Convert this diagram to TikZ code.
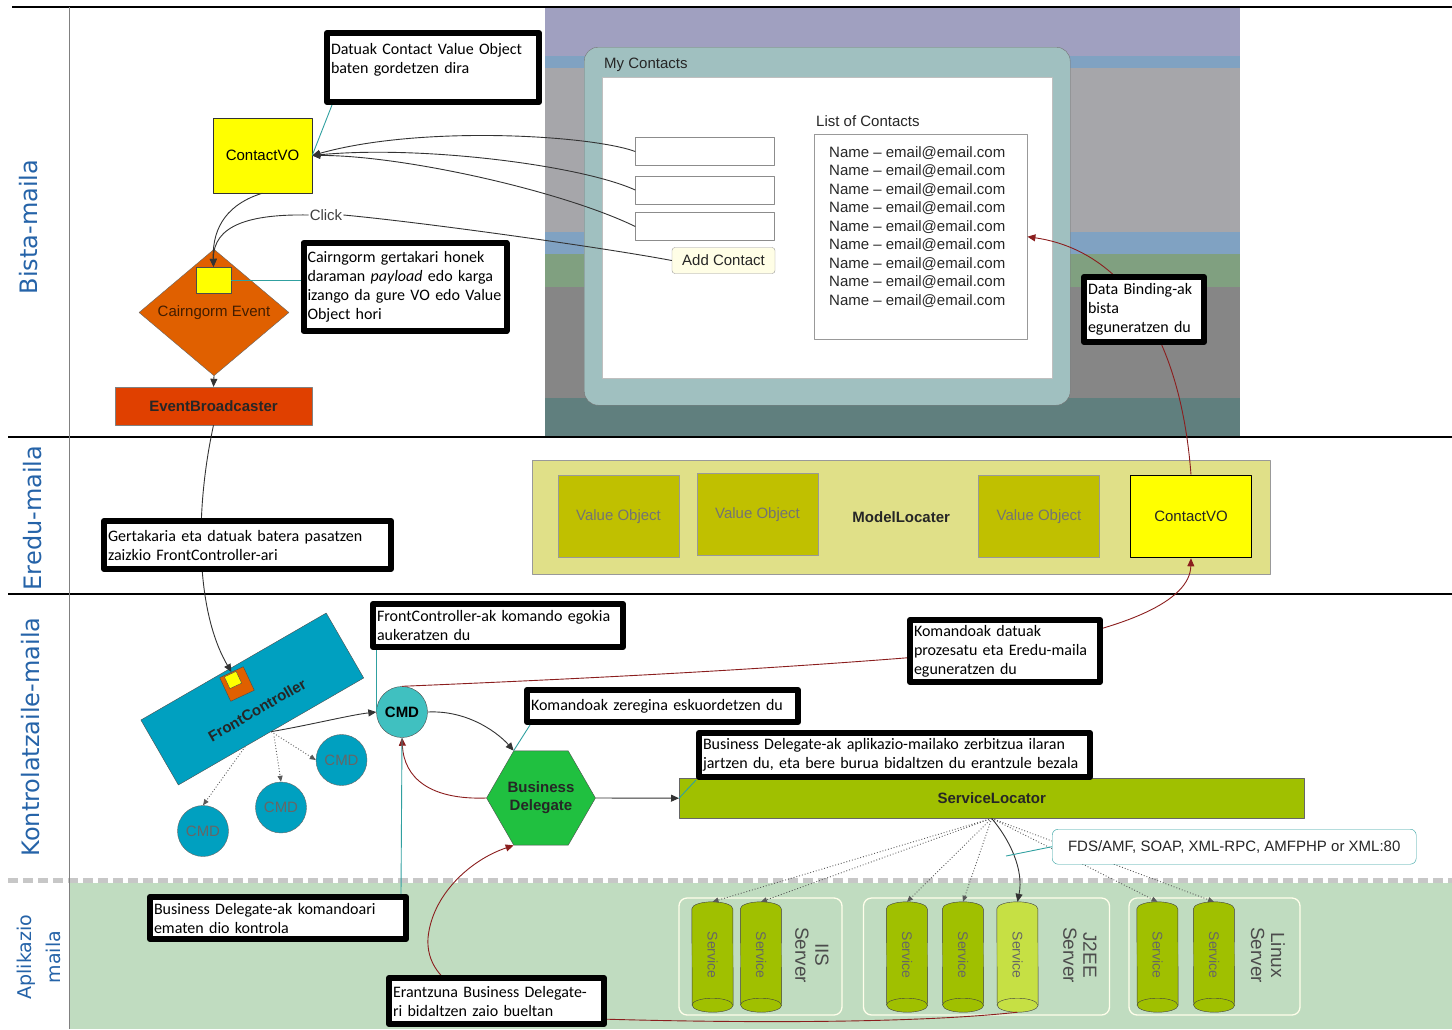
\documentclass[tikz,border=0pt]{standalone}
\usepackage{fontspec}
\setmainfont{Liberation Sans}
\newfontfamily\calfont{Carlito}
\newfontfamily\lblfont{DejaVu Sans}
\usetikzlibrary{arrows.meta,shapes.geometric,calc}

\definecolor{scrpurple}{HTML}{A0A0C0}
\definecolor{scrblue}{HTML}{80A2C2}
\definecolor{scrgray}{HTML}{A6A6AA}
\definecolor{scrgreen}{HTML}{80A080}
\definecolor{scrdark}{HTML}{868686}
\definecolor{scrteal}{HTML}{607F7E}
\definecolor{winfill}{HTML}{A0C0C0}
\definecolor{voyellow}{HTML}{FFFF00}
\definecolor{evorange}{HTML}{E06000}
\definecolor{ebred}{HTML}{E04000}
\definecolor{fcteal}{HTML}{00A0C0}
\definecolor{cmdlight}{HTML}{40C0C0}
\definecolor{bdgreen}{HTML}{20C040}
\definecolor{slgreen}{HTML}{A0C000}
\definecolor{srvlight}{HTML}{C6E044}
\definecolor{modelfill}{HTML}{E0E088}
\definecolor{voolive}{HTML}{C0C000}
\definecolor{appgreen}{HTML}{C0DCC0}
\definecolor{noteteal}{HTML}{30A0A0}
\definecolor{linkred}{HTML}{8B1E1E}
\definecolor{lanelbl}{HTML}{2563A8}

\begin{document}
\begin{tikzpicture}[x=1pt,y=-1pt,>={Triangle[length=8pt,width=7pt]},line join=round,
    font=\fontsize{15}{18}\selectfont,
    lane/.style={draw=black,line width=1.8pt},
    lanelabel/.style={rotate=90,text=lanelbl,font=\lblfont\fontsize{24}{28}\selectfont},
    field/.style={draw=black!45,fill=white,minimum width=139,minimum height=28},
    conn/.style={draw=black!80,line width=.9pt},
    redconn/.style={draw=linkred,line width=.9pt},
    dots/.style={draw=black!65,line width=.9pt,dotted,-{Triangle[length=6pt,width=5pt]}},
    note/.style={draw=noteteal,line width=.9pt},
    vobox/.style={draw=black!40,fill=voolive,text=black!55,minimum width=121,minimum height=82},
    cmdsmall/.style={circle,draw=black!60,fill=fcteal,text=black!60,minimum size=51,inner sep=0},
    srv/.style={minimum width=41,minimum height=110,inner sep=0},
    srvcap/.style={x radius=20.5pt,y radius=7pt},
    srvtxt/.style={rotate=-90,text=black!60,font=\fontsize{14}{16}\selectfont},
    srvlabel/.style={rotate=-90,align=center,text=black!70,font=\fontsize{19}{20}\selectfont},
    grp/.style={draw=white!92!yellow,line width=1.3pt,rounded corners=8pt,minimum height=117},
    callout/.style={draw=black,line width=6pt,fill=white,anchor=north west,align=left,
      inner xsep=4pt,inner ysep=2pt,font=\calfont\fontsize{16}{19}\selectfont}]
  \useasboundingbox (0,0) rectangle (1452,1029);

  \fill[scrpurple] (545,8) rectangle (1240,56);
  \fill[scrblue] (545,56) rectangle (1240,68);
  \fill[scrgray] (545,68) rectangle (1240,232);
  \fill[scrblue] (545,232) rectangle (1240,254);
  \fill[scrgreen] (545,254) rectangle (1240,287);
  \fill[scrdark] (545,287) rectangle (1240,398);
  \fill[scrteal] (545,398) rectangle (1240,436);
  \fill[appgreen] (69,883) rectangle (1452,1029);

  \draw[lane] (12,7) -- (1452,7);
  \draw[lane] (8,437) -- (1452,437);
  \draw[lane] (8,594) -- (1452,594);
  \draw[draw=black!22,line width=5pt,dash pattern=on 10pt off 5pt] (8,880) -- (1452,880);
  \draw[draw=black!50,line width=1pt] (69,7) -- (69,1029);

  \node[lanelabel] (lbista) at (29,227) {Bista-maila};
  \node[lanelabel] (leredu) at (33,518) {Eredu-maila};
  \node[lanelabel] (lkontrol) at (31,737) {Kontrolatzaile-maila};
  \node[lanelabel,align=center,font=\lblfont\fontsize{19}{29}\selectfont] (lapli) at (39,957) {Aplikazio\\maila};

  \node[draw=black!55,fill=winfill,rounded corners=14pt,minimum width=486,minimum height=358,anchor=north west] (win) at (584,47) {};
  \node[anchor=west,text=black!85,inner sep=0] (wtitle) at (604,65) {My Contacts};
  \node[draw=black!25,fill=white,minimum width=450,minimum height=301,anchor=north west] (pane) at (602,77) {};
  \node[field] (f1) at (705,151.5) {};
  \node[field] (f2) at (705,190) {};
  \node[field] (f3) at (705,226.5) {};
  \node[draw=black!40,fill=white!90!yellow,rounded corners=3pt,minimum width=103,minimum height=26,inner sep=0,text=black!85] (addc) at (723.5,260.5) {Add Contact};
  \node[anchor=west,text=black!85,inner sep=0] (lhead) at (816,121) {List of Contacts};
  \node[draw=black!40,fill=white,minimum width=213,minimum height=205,anchor=north west] (lst) at (814,134) {};
  \foreach \i in {0,...,8}
    \node[anchor=west,text=black!85,inner sep=0] (nm\i) at (829,{153+18.46*\i}) {Name – email@email.com};

  \node[draw=black!80,fill=voyellow,minimum width=99,minimum height=75] (cvo) at (262.5,155.5) {ContactVO};
  \node[diamond,draw=black!60,fill=evorange,minimum width=150,minimum height=125,inner sep=0,text=black!70!evorange] (cev) at (214,312.5) {Cairngorm Event};
  \node[draw=black!70,fill=voyellow,minimum width=35,minimum height=26,inner sep=0] (pay) at (213.5,280) {};
  \node[draw=black!50,fill=ebred,minimum width=197,minimum height=38,font=\fontsize{15}{18}\selectfont\bfseries,text=black!85] (eb) at (213.5,406) {EventBroadcaster};

  \node[draw=black!40,fill=modelfill,minimum width=738,minimum height=114,anchor=north west,font=\fontsize{15}{18}\selectfont\bfseries,text=black!85] (ml) at (532,460) {ModelLocater};
  \node[vobox] (vo1) at (618.5,516.5) {Value Object};
  \node[vobox] (vo2) at (757.5,514.5) {Value Object};
  \node[vobox] (vo3) at (1039,516.5) {Value Object};
  \node[draw=black,line width=1.6pt,fill=voyellow,minimum width=121,minimum height=82,text=black!85] (mvo) at (1191,516.5) {ContactVO};

  \node[draw=black!70,fill=fcteal,minimum width=214,minimum height=75,rotate=30] (fc) at (252.3,699) {};
  \node[rotate=30,font=\fontsize{15}{18}\selectfont\bfseries,text=black!85] (fclbl) at (257,710) {FrontController};
  \node[draw=black!70,fill=evorange,minimum size=26,inner sep=0,rotate=25] (fcev) at (237,684) {};
  \node[draw=black!70,fill=voyellow,minimum size=13,inner sep=0,rotate=25] (fcpay) at (233,680) {};
  \node[circle,draw=black!70,fill=cmdlight,minimum size=51,inner sep=0,font=\fontsize{15}{18}\selectfont\bfseries] (cmd) at (402,712) {CMD};
  \node[cmdsmall] (cmda) at (341.5,760) {CMD};
  \node[cmdsmall] (cmdb) at (281,807.5) {CMD};
  \node[cmdsmall] (cmdc) at (203,831) {CMD};
  \node[regular polygon,regular polygon sides=6,minimum size=97,inner sep=0,draw=black!70,fill=bdgreen,align=center,
    font=\fontsize{15}{18}\selectfont\bfseries,text=black!85] (bd) at (541,798) {Business\\Delegate};
  \node[draw=black!60,fill=slgreen,minimum width=625,minimum height=40,anchor=north west,
    font=\fontsize{15}{18}\selectfont\bfseries,text=black!85] (sl) at (679,778) {ServiceLocator};

  \node[grp,minimum width=163] (giis) at (760.5,956.5) {};
  \node[grp,minimum width=246] (gj2ee) at (986.5,956.5) {};
  \node[grp,minimum width=171] (glin) at (1214.5,956.5) {};
  \foreach \n/\x/\c in {s1/712.5/slgreen,s2/761/slgreen,s3/907/slgreen,s4/963/slgreen,s5/1017.5/srvlight,s6/1157.5/slgreen,s7/1214/slgreen}{
    \node[srv] (\n) at (\x,957) {};
    \draw[draw=black!75,fill=\c] ($(\n.north west)+(0,7)$) arc[start angle=180,end angle=0,srvcap]
      -- ($(\n.south east)+(0,-7)$) arc[start angle=0,end angle=-180,srvcap] -- cycle;
    \draw[draw=black!75] ($(\n.south west)+(0,-7)$) arc[start angle=180,end angle=0,srvcap];
    \node[srvtxt] (\n txt) at ($(\n.center)+(0,-2)$) {Service};
  }
  \node[srvlabel] (liis) at (812,955) {IIS\\Server};
  \node[srvlabel] (lj2ee) at (1080,955) {J2EE\\Server};
  \node[srvlabel] (llin) at (1268,955) {Linux\\Server};

  \draw[conn,->] (f1.west) .. controls (590,135) and (420,125) .. (cvo.east);
  \draw[conn,->] (f2.west) .. controls (580,165) and (420,145) .. (cvo.east);
  \draw[conn,->] (f3.west) .. controls (560,190) and (400,155) .. (cvo.east);
  \node[text=black!75,inner sep=1pt] (click) at (326,215) {Click};
  \draw[conn] (addc.west) .. controls (600,247) and (420,222) .. (click.east);
  \draw[conn,->] (click.west) .. controls (250,214) and (213,225) .. (pay.north);
  \draw[conn,->] (cvo.south) .. controls (230,203) and (212,225) .. (pay.north);
  \draw[conn,->] (cev.south) -- (eb.north);
  \draw[conn,->] (eb.south) .. controls (195,510) and (195,610) .. (fcev.north);
  \draw[conn,->] (fc.south) .. controls (310,725) and (350,715) .. (cmd.west);
  \draw[dots] (fc.south) -- (cmda.west);
  \draw[dots] ($(fc.south)+(3,5)$) -- (cmdb.north);
  \draw[dots] ($(fc.south)!.28!(fc.south west)$) -- (cmdc.north);
  \draw[conn,->] (cmd.east) .. controls (470,710) and (500,735) .. (bd.120);
  \draw[redconn,->] (bd.west) .. controls (430,800) and (404,778) .. (cmd.south);
  \draw[conn,->] (bd.east) -- (sl.west);
  \draw[redconn,->] (cmd.north) .. controls (600,678) and (800,668) .. (1000,650)
    .. controls (1130,630) and (1190,600) .. (mvo.south);
  \draw[redconn,->] (mvo.north) .. controls (1180,330) and (1120,250) .. (lst.east);
  \foreach \s in {s1,s2,s3,s4,s6,s7}
    \draw[dots] (sl.south) -- (\s.north);
  \draw[conn,->] (sl.south) .. controls (1010,840) and (1024,870) .. (s5.north);
  \draw[redconn,->] (s5.south) .. controls (900,1025) and (700,1022) .. (600,1019)
    .. controls (480,1015) and (425,985) .. (428,938)
    .. controls (432,895) and (470,860) .. (bd.-120);

  \node[draw=noteteal,fill=white,rounded corners=6pt,minimum width=364,minimum height=35,anchor=north west,text=black!85] (leg) at (1052,829) {FDS/AMF, SOAP, XML-RPC, AMFPHP or XML:80};
  \coordinate (legtip) at (1006,856);

  \node[callout,text width=204,minimum height=69] (cdat) at (324,30) {Datuak Contact Value Object\\baten gordetzen dira\\~};
  \node[callout,text width=195,minimum height=88] (cpay) at (300.5,240) {Cairngorm gertakari honek\\daraman {\itshape payload} edo karga\\izango da gure VO edo Value\\Object hori};
  \node[callout,text width=279,minimum height=48] (cger) at (101,518) {Gertakaria eta datuak batera pasatzen\\zaizkio FrontController-ari};
  \node[callout,text width=242,minimum height=43] (cfcs) at (370,601) {FrontController-ak komando egokia\\aukeratzen du};
  \node[callout,text width=182,minimum height=62] (ckom) at (907,617) {Komandoak datuak\\prozesatu eta Eredu-maila\\eguneratzen du};
  \node[callout,text width=263,minimum height=32] (cesk) at (524,687) {Komandoak zeregina eskuordetzen du};
  \node[callout,text width=383,minimum height=44] (cbdq) at (696,730) {Business Delegate-ak aplikazio-mailako zerbitzua ilaran\\jartzen du, eta bere burua bidaltzen du erantzule bezala};
  \node[callout,text width=112,minimum height=65] (cbind) at (1081,274) {Data Binding-ak\\bista\\eguneratzen du};
  \node[callout,text width=248,minimum height=42] (cbdc) at (147,894) {Business Delegate-ak komandoari\\ematen dio kontrola};
  \node[callout,text width=207,minimum height=46] (cera) at (386,975) {Erantzuna Business Delegate-\\ri bidaltzen zaio bueltan};

  \draw[note] ($(cdat.south west)+(8,0)$) -- (cvo.east);
  \draw[note] (pay.east) -- (cpay.west |- pay.east);
  \draw[note] (cmd.west |- cfcs.south) -- (cmd.west);
  \draw[note] ($(cesk.south west)+(6,0)$) -- (bd.120);
  \draw[note] (cbdq.south west) -- (sl.west);
  \draw[note] ($(cbdc.north east)+(-8,0)$) -- (cmd.south);
  \draw[note] (leg.west) -- (legtip);
\end{tikzpicture}
\end{document}
